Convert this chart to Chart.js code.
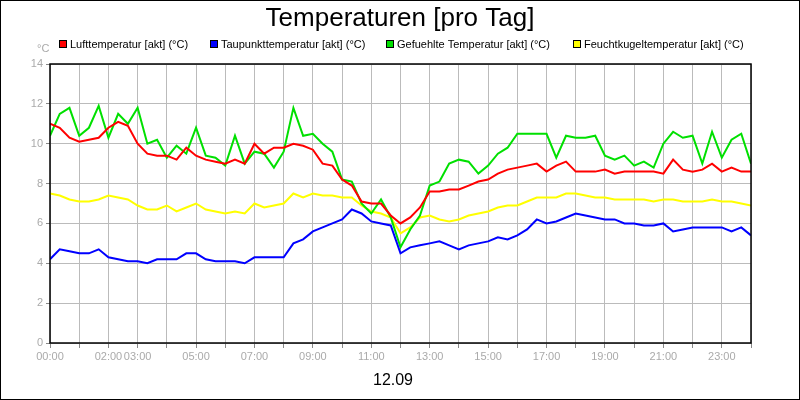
<!DOCTYPE html>
<html>
<head>
<meta charset="utf-8">
<script src="https://cdn.jsdelivr.net/npm/chart.js@4"></script>
<style>
  body { margin: 0; background: #fff; }
  #wrap { width: 798px; height: 398px; border: 1px solid #000; position: relative; }
</style>
</head>
<body>
<div id="wrap"><canvas id="chart" width="798" height="398"></canvas></div>
<script>
// one value every 20 minutes, 00:00 .. 24:00
const hours = [];
for (let i = 0; i <= 72; i++) hours.push(i / 3);
const tickHours = [0, 2, 3, 5, 7, 9, 11, 13, 15, 17, 19, 21, 23];
const tickLabels = ['00:00', '02:00', '03:00', '05:00', '07:00', '09:00', '11:00', '13:00', '15:00', '17:00', '19:00', '21:00', '23:00'];

const luft = [11.0, 10.8, 10.3, 10.1, 10.2, 10.3, 10.8, 11.1, 10.9, 10.0, 9.5, 9.4, 9.4, 9.2, 9.8, 9.4, 9.2, 9.1,
  9.0, 9.2, 9.0, 10.0, 9.5, 9.8, 9.8, 10.0, 9.9, 9.7, 9.0, 8.9, 8.2, 7.9, 7.1, 7.0, 7.0, 6.4,
  6.0, 6.3, 6.8, 7.6, 7.6, 7.7, 7.7, 7.9, 8.1, 8.2, 8.5, 8.7, 8.8, 8.9, 9.0, 8.6, 8.9, 9.1,
  8.6, 8.6, 8.6, 8.7, 8.5, 8.6, 8.6, 8.6, 8.6, 8.5, 9.2, 8.7, 8.6, 8.7, 9.0, 8.6, 8.8, 8.6, 8.6];
const taupunkt = [4.2, 4.7, 4.6, 4.5, 4.5, 4.7, 4.3, 4.2, 4.1, 4.1, 4.0, 4.2, 4.2, 4.2, 4.5, 4.5, 4.2, 4.1,
  4.1, 4.1, 4.0, 4.3, 4.3, 4.3, 4.3, 5.0, 5.2, 5.6, 5.8, 6.0, 6.2, 6.7, 6.5, 6.1, 6.0, 5.9,
  4.5, 4.8, 4.9, 5.0, 5.1, 4.9, 4.7, 4.9, 5.0, 5.1, 5.3, 5.2, 5.4, 5.7, 6.2, 6.0, 6.1, 6.3,
  6.5, 6.4, 6.3, 6.2, 6.2, 6.0, 6.0, 5.9, 5.9, 6.0, 5.6, 5.7, 5.8, 5.8, 5.8, 5.8, 5.6, 5.8, 5.4];
const gefuehlt = [10.4, 11.5, 11.8, 10.4, 10.8, 11.9, 10.3, 11.5, 11.0, 11.8, 10.0, 10.2, 9.3, 9.9, 9.5, 10.8, 9.4, 9.3,
  8.9, 10.4, 9.0, 9.6, 9.5, 8.8, 9.6, 11.8, 10.4, 10.5, 10.0, 9.6, 8.2, 8.1, 7.0, 6.5, 7.2, 6.3,
  4.8, 5.7, 6.4, 7.9, 8.1, 9.0, 9.2, 9.1, 8.5, 8.9, 9.5, 9.8, 10.5, 10.5, 10.5, 10.5, 9.3, 10.4,
  10.3, 10.3, 10.4, 9.4, 9.2, 9.4, 8.9, 9.1, 8.8, 10.0, 10.6, 10.3, 10.4, 9.0, 10.6, 9.3, 10.2, 10.5, 9.0];
const feuchtkugel = [7.5, 7.4, 7.2, 7.1, 7.1, 7.2, 7.4, 7.3, 7.2, 6.9, 6.7, 6.7, 6.9, 6.6, 6.8, 7.0, 6.7, 6.6,
  6.5, 6.6, 6.5, 7.0, 6.8, 6.9, 7.0, 7.5, 7.3, 7.5, 7.4, 7.4, 7.3, 7.3, 6.9, 6.6, 6.5, 6.3,
  5.5, 5.8, 6.3, 6.4, 6.2, 6.1, 6.2, 6.4, 6.5, 6.6, 6.8, 6.9, 6.9, 7.1, 7.3, 7.3, 7.3, 7.5,
  7.5, 7.4, 7.3, 7.3, 7.2, 7.2, 7.2, 7.2, 7.1, 7.2, 7.2, 7.1, 7.1, 7.1, 7.2, 7.1, 7.1, 7.0, 6.9];

const seriesNames = ['Lufttemperatur [akt] (°C)', 'Taupunkttemperatur [akt] (°C)', 'Gefuehlte Temperatur [akt] (°C)', 'Feuchtkugeltemperatur [akt] (°C)'];
const seriesColors = ['#ff0000', '#0000ff', '#00e000', '#ffff00'];
const seriesData = [luft, taupunkt, gefuehlt, feuchtkugel];

// title, legend, unit and date label
const decorations = {
  id: 'decorations',
  afterDraw(chart) {
    const ctx = chart.ctx;
    const area = chart.chartArea;
    ctx.save();
    ctx.fillStyle = '#000';
    ctx.textAlign = 'center';
    ctx.textBaseline = 'middle';
    ctx.font = '26px "Liberation Sans", Arial, sans-serif';
    ctx.fillText('Temperaturen [pro Tag]', 399, 18);
    ctx.font = '16px "Liberation Sans", Arial, sans-serif';
    ctx.fillText('12.09', 392, 380);

    ctx.font = '11px "Liberation Sans", Arial, sans-serif';
    ctx.textAlign = 'left';
    const legendX = [58, 209, 385, 572];
    seriesNames.forEach((name, i) => {
      ctx.fillStyle = seriesColors[i];
      ctx.fillRect(legendX[i], 39, 8, 8);
      ctx.strokeStyle = '#000';
      ctx.lineWidth = 1;
      ctx.strokeRect(legendX[i] + 0.5, 39.5, 7, 7);
      ctx.fillStyle = '#000';
      ctx.fillText(name, legendX[i] + 11, 44);
    });

    ctx.fillStyle = '#aaa';
    ctx.fillText('°C', 36, 48);

    ctx.strokeStyle = '#000';
    ctx.lineWidth = 1.5;
    ctx.strokeRect(area.left, area.top, area.right - area.left, area.bottom - area.top);
    ctx.restore();
  }
};

new Chart(document.getElementById('chart'), {
  type: 'line',
  data: {
    datasets: seriesData.map((vals, i) => ({
      label: seriesNames[i],
      data: vals.map((v, k) => ({ x: hours[k], y: v })),
      borderColor: seriesColors[i],
      borderWidth: 2,
      pointRadius: 0,
      tension: 0,
      fill: false
    }))
  },
  options: {
    responsive: false,
    animation: false,
    layout: { padding: { top: 63, right: 48, left: 0, bottom: 0 } },
    plugins: { legend: { display: false }, title: { display: false }, tooltip: { enabled: false } },
    scales: {
      x: {
        type: 'linear',
        min: 0,
        max: 24,
        afterBuildTicks: axis => { axis.ticks = hours.filter((h, k) => k % 3 === 0).map(h => ({ value: h })); },
        afterFit: axis => { axis.height = 56; },
        grid: { color: '#bbb', lineWidth: 1, tickLength: 5, drawTicks: true, tickColor: '#888' },
        border: { display: false },
        ticks: {
          color: '#aaa',
          font: { size: 11, family: '"Liberation Sans", Arial, sans-serif' },
          maxRotation: 0,
          autoSkip: false,
          padding: 2,
          callback: v => {
            const idx = tickHours.indexOf(v);
            return idx >= 0 ? tickLabels[idx] : '';
          }
        }
      },
      y: {
        min: 0,
        max: 14,
        afterFit: axis => { axis.width = 49; },
        grid: { color: '#bbb', lineWidth: 1, tickLength: 4, tickColor: '#888' },
        border: { display: false },
        ticks: {
          stepSize: 2,
          color: '#aaa',
          padding: 3,
          font: { size: 11, family: '"Liberation Sans", Arial, sans-serif' }
        }
      }
    }
  },
  plugins: [decorations]
});
</script>
</body>
</html>
